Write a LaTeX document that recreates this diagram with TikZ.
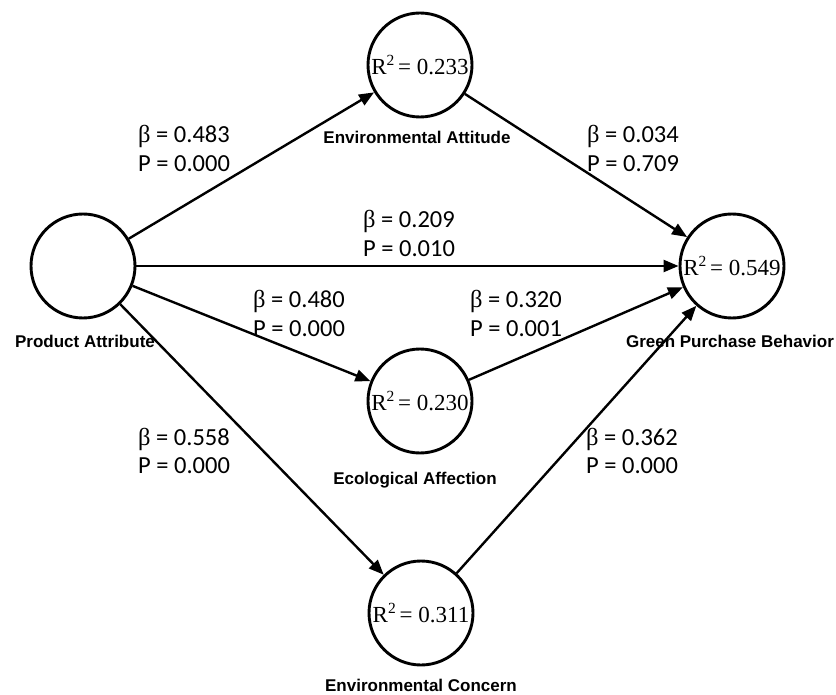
\documentclass[tikz,border=0pt]{standalone}
\usepackage{fontspec}
\setmainfont{Carlito}
\newfontfamily\rfont{Liberation Serif}
\newfontfamily\lfont{Liberation Sans}
\usetikzlibrary{arrows.meta}
\newcommand{\rsq}[1]{R\raisebox{0.36em}{\fontsize{15.5}{15.5}\selectfont 2}\,= #1}
\begin{document}
\begin{tikzpicture}[x=1pt,y=-1pt,
  lv/.style={circle,draw,line width=2.9pt,minimum size=104pt,inner sep=0pt,
    font=\rfont\fontsize{23}{23}\selectfont},
  lvname/.style={anchor=base,inner sep=0pt,font=\lfont\bfseries\fontsize{17}{17}\selectfont},
  coef/.style={anchor=base west,inner sep=0pt,font=\fontsize{24.5}{29}\selectfont},
  link/.style={line width=2.4pt,-{Triangle[length=15pt,width=12pt]}}]
\useasboundingbox (0,0) rectangle (836,695);
% latent variables
\node[lv] (pa) at (83,266) {};
\node[lv] (ea) at (420,65) {\rsq{0.233}};
\node[lv] (gpb) at (732,266) {\rsq{0.549}};
\node[lv] (eaf) at (420,401) {\rsq{0.230}};
\node[lv] (ec) at (421,613) {\rsq{0.311}};
% captions
\node[lvname] (pacap) at (85,347) {Product Attribute};
\node[lvname] (eacap) at (417,144) {Environmental Attitude};
\node[lvname] (gpbcap) at (730,347) {Green Purchase Behavior};
\node[lvname] (eafcap) at (415,484) {Ecological Affection};
\node[lvname] (eccap) at (421,691) {Environmental Concern};
% connectors
\draw[link] (pa) -- (ea);
\draw[link] (pa) -- (gpb);
\draw[link] (pa) -- (eaf);
\draw[link] (pa) -- (ec);
\draw[link] (ea) -- (gpb);
\draw[link] (eaf) -- (gpb);
\draw[link] (ec) -- (gpb);
% coefficients
\node[coef] (b1) at (138,143) {{\rfont β} = 0.483};
\node[coef] (p1) at (138,172) {P = 0.000};
\node[coef] (b2) at (363,228) {{\rfont β} = 0.209};
\node[coef] (p2) at (363,257) {P = 0.010};
\node[coef] (b3) at (253,308) {{\rfont β} = 0.480};
\node[coef] (p3) at (253,337) {P = 0.000};
\node[coef] (b4) at (470,308) {{\rfont β} = 0.320};
\node[coef] (p4) at (470,337) {P = 0.001};
\node[coef] (b5) at (587,143) {{\rfont β} = 0.034};
\node[coef] (p5) at (587,172) {P = 0.709};
\node[coef] (b6) at (138,445) {{\rfont β} = 0.558};
\node[coef] (p6) at (138,473) {P = 0.000};
\node[coef] (b7) at (586,445) {{\rfont β} = 0.362};
\node[coef] (p7) at (586,473) {P = 0.000};
\end{tikzpicture}
\end{document}
